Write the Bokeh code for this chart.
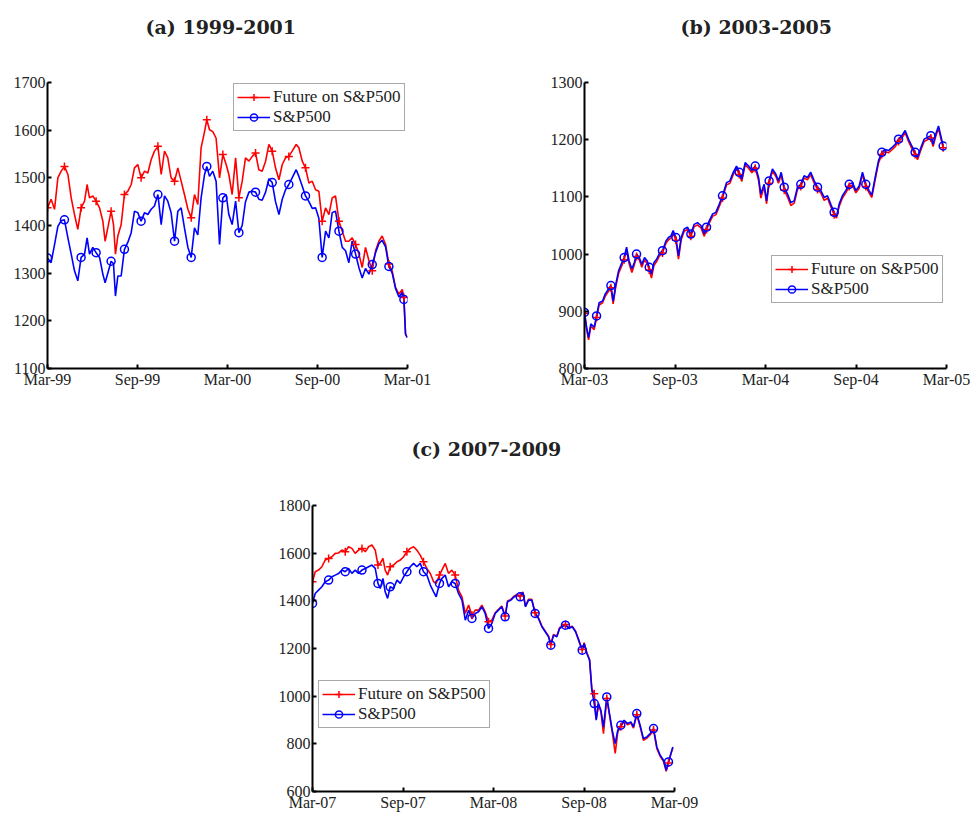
from bokeh.plotting import figure
from bokeh.models import Range1d, FixedTicker, Legend, LegendItem, Title
from bokeh.layouts import column, row
from bokeh.embed import file_html
from bokeh.resources import INLINE

# ---------------- data ----------------
tick_months = [0, 6, 12, 18, 24]
xlabels_a = ["Mar-99", "Sep-99", "Mar-00", "Sep-00", "Mar-01"]
xlabels_b = ["Mar-03", "Sep-03", "Mar-04", "Sep-04", "Mar-05"]
xlabels_c = ["Mar-07", "Sep-07", "Mar-08", "Sep-08", "Mar-09"]
yticks_a = [1100, 1200, 1300, 1400, 1500, 1600, 1700]
yticks_b = [800, 900, 1000, 1100, 1200, 1300]
yticks_c = [600, 800, 1000, 1200, 1400, 1600, 1800]
series_labels = ["Future on S&P500", "S&P500"]
titles = ["(a) 1999-2001", "(b) 2003-2005", "(c) 2007-2009"]

# months since start of each window
months_a = [0.0, 0.24, 0.47, 0.69, 0.91, 1.13, 1.36, 1.58, 1.80, 2.02,
            2.24, 2.47, 2.64, 2.80, 3.02, 3.24, 3.47, 3.69, 3.84, 4.02,
            4.24, 4.40, 4.53, 4.69, 4.91, 5.13, 5.36, 5.58, 5.80, 6.02,
            6.24, 6.47, 6.69, 6.91, 7.13, 7.36, 7.58, 7.80, 8.02, 8.24,
            8.47, 8.69, 8.91, 9.13, 9.36, 9.58, 9.80, 10.02, 10.24, 10.47,
            10.62, 10.80, 11.02, 11.24, 11.47, 11.69, 11.91,
            12.09, 12.31, 12.54, 12.76, 12.98, 13.20, 13.43, 13.65, 13.87, 14.09,
            14.31, 14.54, 14.76, 14.98, 15.20, 15.43, 15.65, 15.87, 16.09, 16.31,
            16.58, 16.76, 16.98, 17.20, 17.43, 17.65, 17.87, 18.09, 18.31, 18.54,
            18.76, 18.98, 19.20, 19.43, 19.65, 19.87, 20.09, 20.31, 20.54, 20.76,
            20.98, 21.20, 21.43, 21.65, 21.87, 22.09, 22.31, 22.54, 22.76, 22.98,
            23.20, 23.43, 23.65, 23.76, 23.87, 23.98]
future_a = [1437, 1455, 1434, 1500, 1514, 1524, 1507, 1458, 1423, 1392,
            1437, 1451, 1486, 1458, 1462, 1451, 1437, 1409, 1367, 1395,
            1430, 1402, 1340, 1378, 1402, 1465, 1472, 1486, 1521, 1528,
            1500, 1514, 1510, 1538, 1556, 1566, 1507, 1556, 1542, 1500,
            1493, 1521, 1493, 1465, 1434, 1416, 1465, 1444, 1563, 1597,
            1622, 1601, 1597, 1583, 1500, 1549, 1528,
            1507, 1465, 1542, 1458, 1493, 1542, 1535, 1545, 1552, 1517,
            1514, 1535, 1570, 1556, 1521, 1496, 1528, 1542, 1545, 1556,
            1570, 1563, 1535, 1521, 1489, 1493, 1475, 1472, 1409, 1437,
            1423, 1458, 1462, 1409, 1388, 1367, 1367, 1374, 1360, 1340,
            1312, 1354, 1326, 1305, 1347, 1367, 1378, 1360, 1319, 1305,
            1270, 1256, 1266, 1249, 1172, 1165]
spx_a = [1332, 1322, 1360, 1398, 1410, 1412, 1374, 1340, 1305, 1284,
         1333, 1340, 1374, 1340, 1354, 1343, 1333, 1298, 1280, 1300,
         1325, 1320, 1252, 1294, 1294, 1350, 1365, 1385, 1430, 1427,
         1409, 1427, 1423, 1434, 1441, 1465, 1402, 1462, 1451, 1427,
         1367, 1430, 1437, 1395, 1354, 1333, 1395, 1380, 1458, 1507,
         1524, 1503, 1514, 1493, 1360, 1458, 1465,
         1423, 1402, 1451, 1385, 1400, 1450, 1470, 1472, 1470, 1455,
         1453, 1470, 1498, 1490, 1450, 1423, 1455, 1475, 1486, 1500,
         1517, 1503, 1483, 1462, 1450, 1436, 1437, 1415, 1333, 1388,
         1374, 1427, 1430, 1388, 1354, 1347, 1322, 1367, 1340, 1312,
         1290, 1310, 1298, 1318, 1343, 1362, 1369, 1355, 1314, 1300,
         1268, 1250, 1260, 1245, 1172, 1165]

months_b = [0.0, 0.14, 0.27, 0.42, 0.64, 0.80, 0.97, 1.20, 1.37, 1.59,
            1.75, 1.90, 2.08, 2.26, 2.48, 2.63, 2.79, 2.96, 3.14, 3.30,
            3.45, 3.63, 3.80, 3.98, 4.16, 4.29, 4.44, 4.60, 4.78, 4.95,
            5.17, 5.40, 5.57, 5.73, 5.88, 6.06, 6.23, 6.41, 6.61, 6.83,
            7.05, 7.27, 7.49, 7.72, 7.94, 8.09, 8.27, 8.49, 8.71, 8.93,
            9.15, 9.42, 9.64, 9.86, 10.08, 10.26, 10.43, 10.65, 10.88, 11.10,
            11.32, 11.54, 11.69, 11.91,
            12.07, 12.24, 12.46, 12.68, 12.86, 13.04, 13.24, 13.46, 13.68, 13.90,
            14.12, 14.34, 14.56, 14.78, 15.00, 15.23, 15.45, 15.67, 15.89, 16.11,
            16.33, 16.55, 16.71, 16.88, 17.10, 17.32, 17.55, 17.77, 17.99, 18.21,
            18.43, 18.65, 18.87, 19.05, 19.27, 19.49, 19.71, 19.93, 20.15, 20.37,
            20.60, 20.82, 21.04, 21.26, 21.48, 21.70, 21.92, 22.08, 22.30, 22.52,
            22.74, 22.96, 23.11, 23.29, 23.47, 23.62, 23.78]
future_b = [896, 869, 850, 874, 868, 889, 911, 915, 926, 935,
            941, 913, 944, 966, 980, 990, 1008, 983, 968, 981,
            996, 990, 977, 990, 983, 972, 958, 980, 987, 996,
            1002, 1019, 1025, 1028, 1037, 1024, 991, 1025, 1040, 1043,
            1031, 1048, 1051, 1046, 1031, 1043, 1054, 1066, 1069, 1083,
            1098, 1121, 1124, 1139, 1150, 1139, 1127, 1156, 1150, 1142,
            1150, 1129, 1098, 1118,
            1088, 1124, 1145, 1136, 1124, 1139, 1112, 1100, 1085, 1089,
            1113, 1118, 1133, 1130, 1139, 1124, 1113, 1107, 1094, 1098,
            1083, 1069, 1063, 1083, 1098, 1107, 1118, 1121, 1107, 1115,
            1139, 1118, 1107, 1099, 1130, 1159, 1174, 1179, 1177, 1182,
            1188, 1197, 1203, 1212, 1197, 1185, 1174, 1165, 1182, 1197,
            1200, 1203, 1188, 1206, 1220, 1203, 1186]
spx_b = [898, 872, 854, 878, 872, 892, 915, 918, 930, 939,
         945, 918, 948, 971, 985, 994, 1012, 988, 974, 985,
         1000, 994, 982, 994, 988, 977, 965, 985, 991, 1000,
         1006, 1023, 1029, 1032, 1041, 1029, 997, 1029, 1044, 1047,
         1035, 1052, 1055, 1050, 1035, 1047, 1058, 1070, 1073, 1087,
         1102, 1125, 1128, 1143, 1154, 1143, 1131, 1160, 1154, 1146,
         1154, 1134, 1105, 1122,
         1093, 1128, 1149, 1140, 1128, 1143, 1117, 1105, 1090, 1093,
         1117, 1122, 1137, 1134, 1143, 1128, 1117, 1111, 1099, 1102,
         1087, 1073, 1066, 1087, 1102, 1111, 1122, 1125, 1111, 1119,
         1143, 1122, 1111, 1103, 1134, 1163, 1178, 1183, 1181, 1186,
         1192, 1201, 1207, 1216, 1201, 1189, 1178, 1169, 1186, 1201,
         1204, 1207, 1192, 1210, 1224, 1207, 1189]

months_c = [0.0, 0.18, 0.40, 0.62, 0.84, 1.07, 1.29, 1.51, 1.73, 1.95,
            2.17, 2.39, 2.61, 2.83, 3.05, 3.28, 3.50, 3.72, 3.94, 4.16,
            4.34, 4.49, 4.67, 4.82, 4.98, 5.15, 5.37, 5.60, 5.82, 6.04,
            6.26, 6.48, 6.70, 6.92, 7.14, 7.36, 7.58, 7.81, 8.03, 8.20,
            8.42, 8.58, 8.80, 9.02, 9.24, 9.46, 9.68, 9.91, 10.13, 10.35,
            10.57, 10.79, 11.01, 11.23, 11.45, 11.67, 11.89,
            12.11, 12.33, 12.55, 12.77, 12.93, 13.15, 13.37, 13.55, 13.77, 13.95,
            14.12, 14.32, 14.54, 14.76, 14.98, 15.21, 15.43, 15.65, 15.80, 15.98,
            16.20, 16.38, 16.55, 16.77, 17.00, 17.22, 17.44, 17.66, 17.88, 18.01,
            18.19, 18.37, 18.52, 18.68, 18.81, 18.96, 19.12, 19.29, 19.51, 19.69,
            19.87, 20.07, 20.24, 20.44, 20.66, 20.89, 21.11, 21.28, 21.50, 21.72,
            21.94, 22.17, 22.39, 22.61, 22.83, 23.05, 23.27, 23.45, 23.60, 23.76,
            23.89]
future_c = [1480, 1522, 1529, 1543, 1571, 1578, 1585, 1599, 1601, 1613,
            1606, 1627, 1620, 1599, 1613, 1620, 1606, 1627, 1634, 1613,
            1550, 1557, 1578, 1529, 1508, 1543, 1550, 1564, 1571, 1585,
            1606, 1620, 1627, 1613, 1592, 1564, 1536, 1515, 1480, 1473,
            1508, 1529, 1557, 1515, 1529, 1508, 1445, 1417, 1347, 1382,
            1340, 1361, 1361, 1382, 1354, 1312, 1319,
            1350, 1364, 1378, 1336, 1399, 1406, 1420, 1427, 1420, 1437,
            1378, 1406, 1406, 1350, 1329, 1294, 1273, 1252, 1217, 1259,
            1252, 1287, 1294, 1301, 1287, 1294, 1273, 1230, 1196, 1224,
            1182, 1154, 1030, 1010, 905, 965, 935, 843, 990, 920,
            850, 760, 850, 872, 893, 880, 887, 866, 922, 872,
            815, 824, 838, 858, 780, 748, 727, 685, 720, 757,
            784]
spx_c = [1389, 1431, 1445, 1459, 1480, 1487, 1501, 1508, 1515, 1529,
         1522, 1536, 1515, 1529, 1515, 1529, 1536, 1543, 1550, 1536,
         1473, 1452, 1494, 1438, 1410, 1459, 1452, 1487, 1473, 1501,
         1522, 1543, 1557, 1543, 1557, 1522, 1508, 1466, 1438, 1417,
         1473, 1494, 1508, 1459, 1480, 1473, 1431, 1403, 1319, 1361,
         1326, 1347, 1354, 1375, 1347, 1284, 1305,
         1347, 1361, 1375, 1333, 1396, 1403, 1417, 1424, 1417, 1434,
         1375, 1403, 1403, 1347, 1326, 1291, 1270, 1249, 1214, 1256,
         1249, 1284, 1291, 1298, 1284, 1291, 1270, 1235, 1193, 1221,
         1179, 1151, 1025, 969, 899, 969, 941, 870, 997, 927,
         857, 801, 857, 878, 899, 885, 892, 871, 927, 878,
         822, 829, 843, 864, 787, 752, 731, 689, 724, 759,
         787]

RED = "#ff0000"
BLUE = "#0000ff"
SERIF = "Liberation Serif"


def make_panel(title, months, fut, spx, yrange, yticks, xlabels, width, height,
               borders, legend_loc, title_offset, title_gap):
    left, right, top, bottom = borders
    p = figure(width=width, height=height, output_backend="svg", toolbar_location=None,
               x_range=Range1d(tick_months[0], tick_months[-1]),
               y_range=Range1d(yrange[0], yrange[1]),
               min_border_left=left, min_border_right=right,
               min_border_top=top, min_border_bottom=bottom)
    p.title.text = title
    p.title.text_font = "DejaVu Serif"
    p.title.text_font_style = "bold"
    p.title.text_font_size = "19px"
    p.title.align = "left"
    p.title.offset = title_offset
    p.title.standoff = 0
    p.title.text_color = "#222222"
    # empty spacer title between the real title and the frame
    p.add_layout(Title(text=" ", text_font_size="1px", standoff=title_gap), "above")

    p.xgrid.visible = False
    p.ygrid.visible = False
    p.outline_line_color = None

    p.xaxis.ticker = FixedTicker(ticks=tick_months)
    p.xaxis.major_label_overrides = {t: lab for t, lab in zip(tick_months, xlabels)}
    p.yaxis.ticker = FixedTicker(ticks=yticks)
    for ax in (p.xaxis[0], p.yaxis[0]):
        ax.axis_line_width = 2
        ax.axis_line_color = "black"
        ax.major_tick_in = 4
        ax.major_tick_out = 0
        ax.major_tick_line_width = 2
        ax.minor_tick_line_color = None
        ax.major_label_text_font = SERIF
        ax.major_label_text_font_size = "16px"
        ax.major_label_text_color = "#222222"
        ax.major_label_standoff = 2

    r_fut = p.line(months, fut, line_color=RED, line_width=1.6)
    r_spx = p.line(months, spx, line_color=BLUE, line_width=1.6)
    r_fut_m = p.scatter(months[::5], fut[::5], marker="cross", size=8,
                        line_color=RED, line_width=1.5)
    r_spx_m = p.scatter(months[::5], spx[::5], marker="circle", size=8,
                        line_color=BLUE, fill_color=None, line_width=1.5)

    legend = Legend(items=[LegendItem(label=series_labels[0], renderers=[r_fut, r_fut_m]),
                           LegendItem(label=series_labels[1], renderers=[r_spx, r_spx_m])],
                    location=legend_loc)
    legend.label_text_font = SERIF
    legend.label_text_font_size = "17px"
    legend.label_text_color = "#222222"
    legend.border_line_color = "#555555"
    legend.border_line_width = 1.5
    legend.background_fill_alpha = 1.0
    legend.padding = 3
    legend.spacing = 0
    legend.margin = 0
    legend.glyph_width = 33
    legend.glyph_height = 18
    legend.label_height = 18
    legend.label_standoff = 3
    p.add_layout(legend)
    return p


pa = make_panel(titles[0], months_a, future_a, spx_a, (1100, 1700), yticks_a, xlabels_a,
                490, 390, (47, 83, 81, 22), (186, 237), 98, 42)
pb = make_panel(titles[1], months_b, future_b, spx_b, (800, 1300), yticks_b, xlabels_b,
                483, 390, (94, 27, 82, 22), (187, 65), 96, 42)
pc = make_panel(titles[2], months_c, future_c, spx_c, (600, 1800), yticks_c, xlabels_c,
                973, 423, (312, 299, 115, 22), (6, 63), 99, 43)

layout = column(row(pa, pb), pc)
open("out.html", "w").write(file_html(layout, INLINE))
